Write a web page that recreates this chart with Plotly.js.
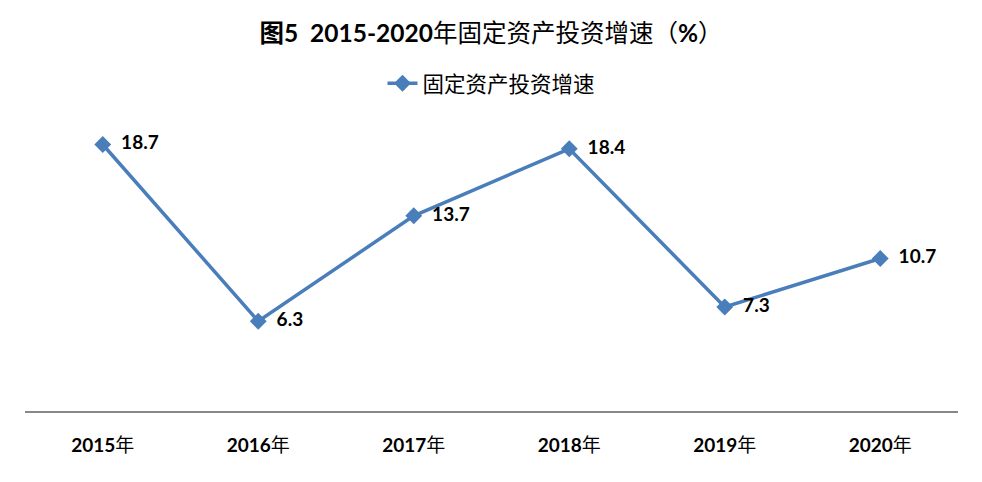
<!DOCTYPE html>
<html><head><meta charset="utf-8">
<script src="https://cdn.plot.ly/plotly-3.0.1.min.js"></script>
<style>html,body{margin:0;padding:0;background:#fff;}#chart{width:982px;height:482px;}</style>
</head><body><div id="chart"></div>
<script>
const years = ["2015年","2016年","2017年","2018年","2019年","2020年"];
const growth = [18.7, 6.3, 13.7, 18.4, 7.3, 10.7];
const seriesName = "固定资产投资增速";
const titleText = "<b>图5  2015-2020</b>年固定资产投资增速（<b>%</b>）";

const fontFam = "Lato, 'Noto Sans CJK SC', sans-serif";
const trace = {
  x: years, y: growth, type: "scatter", mode: "lines+markers+text",
  name: seriesName,
  text: growth.map(v => "\u00a0\u00a0" + v.toFixed(1)),
  textposition: "middle right",
  textfont: {family: fontFam, size: 19, color: "#000", weight: "bold"},
  line: {color: "#4a7ebb", width: 3.5},
  marker: {symbol: "diamond", size: 13, color: "#4a7ebb"},
  cliponaxis: false
};
const layout = {
  width: 982, height: 482,
  margin: {l: 25, r: 24, t: 126, b: 71},
  paper_bgcolor: "#fff", plot_bgcolor: "#fff",
  title: {text: titleText, x: 0.5, xanchor: "center", y: 0.931, yanchor: "middle",
          font: {family: fontFam, size: 24.5, color: "#000"}},
  showlegend: true,
  legend: {orientation: "h", x: 0.5, xanchor: "center", y: 1.15, yanchor: "middle",
           font: {family: "'Noto Sans CJK SC', sans-serif", size: 21.5, color: "#000"}},
  xaxis: {type: "category", range: [-0.5, 5.5], autorange: false,
          showline: true, linecolor: "#888", linewidth: 1.5,
          showgrid: false, ticks: "", zeroline: false,
          tickvals: years, ticktext: years.map(y => "<b>" + y.slice(0, 4) + "</b>" + y.slice(4)),
          tickfont: {family: fontFam, size: 19, color: "#000"}, ticklabelstandoff: 17},
  yaxis: {range: [0, 20], visible: false, showgrid: false, zeroline: false}
};
Plotly.newPlot("chart", [trace], layout, {displayModeBar: false, staticPlot: true});
</script></body></html>
